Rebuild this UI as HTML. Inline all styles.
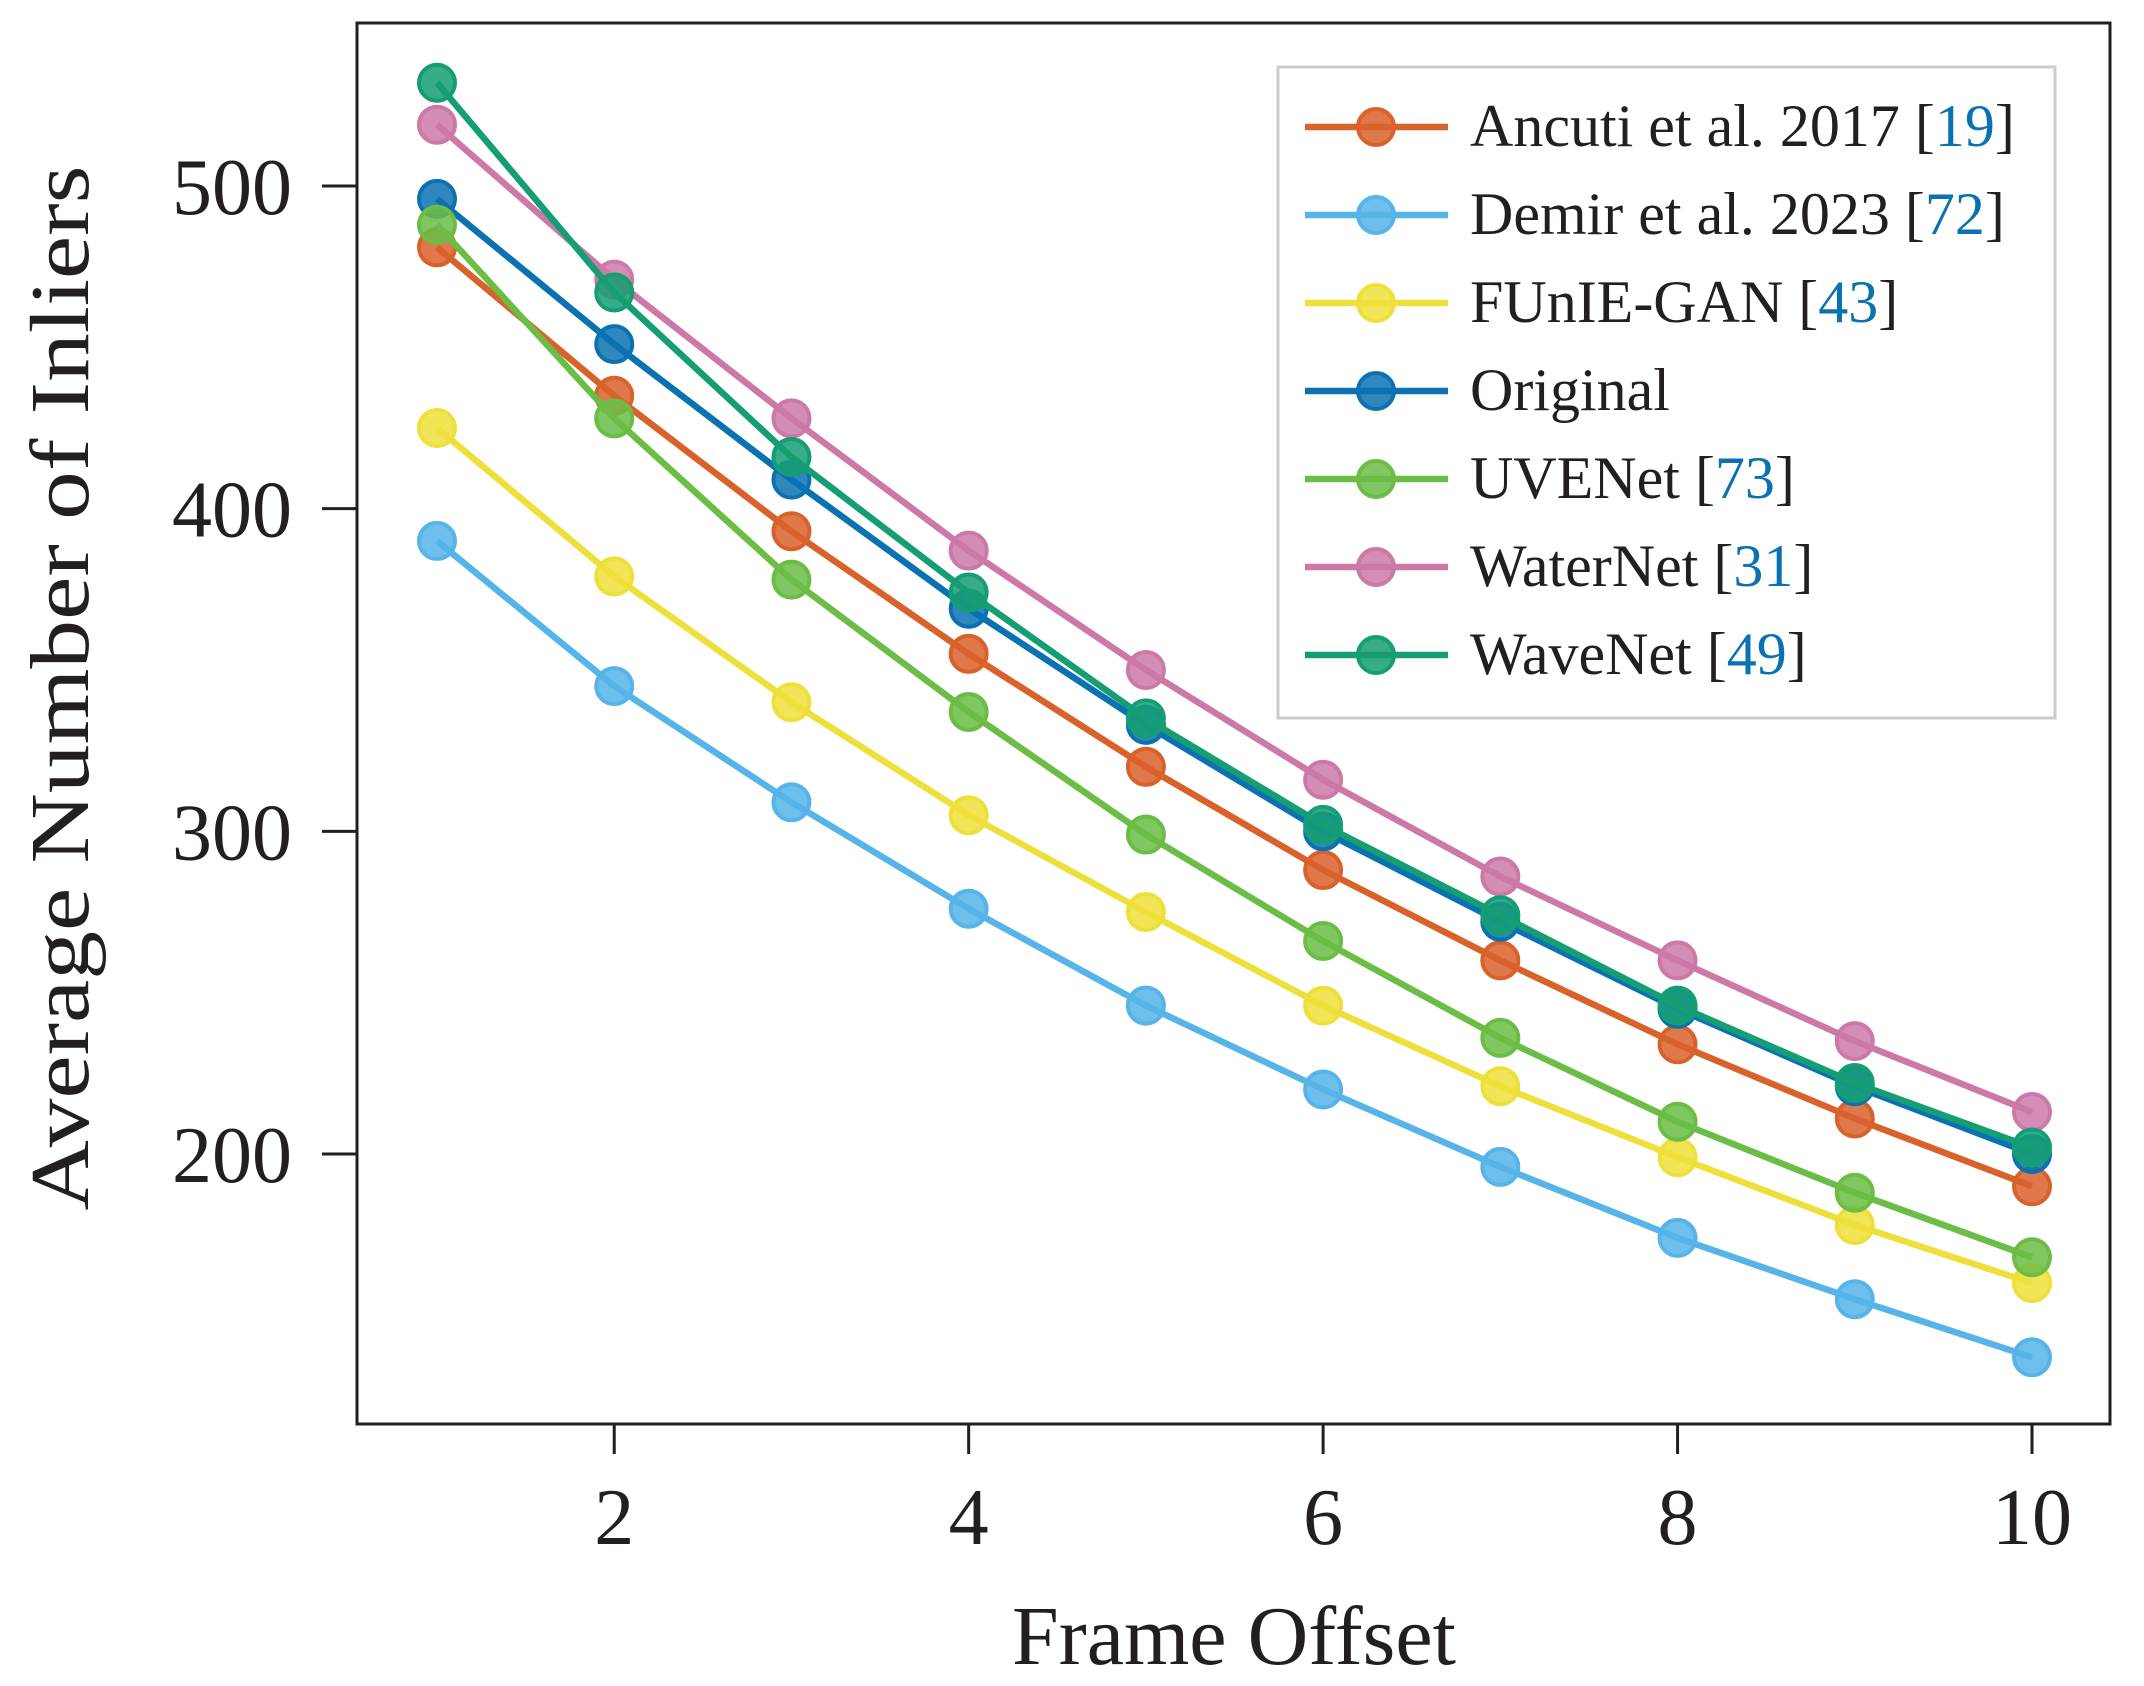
<!DOCTYPE html>
<html><head><meta charset="utf-8"><style>
html,body{margin:0;padding:0;background:#fff}
svg{display:block}
text{font-family:"Liberation Serif",serif;fill:#231f20}
</style></head><body>
<svg id="chart" width="2144" height="1686" viewBox="0 0 2144 1686" xmlns="http://www.w3.org/2000/svg"></svg>
<script>
const xs=[1,2,3,4,5,6,7,8,9,10];
const seriesNames=["Ancuti et al. 2017","Demir et al. 2023","FUnIE-GAN","Original","UVENet","WaterNet","WaveNet"];
const seriesRefs=["19","72","43","","73","31","49"];
const seriesColors=["#d9622b","#56b4e9","#eee03a","#0b72b2","#6bbd45","#cc79a7","#159e74"];
const ancuti=[481,435,393,355,320,288,260,234,211,190];
const demir=[390,345,309,276,246,220,196,174,155,137];
const funie=[425,379,340,305,275,246,221,199,178,160];
const original=[496,451,409,369,333,300,272,245,221,200];
const uvenet=[488,428,378,337,299,266,236,210,188,168];
const waternet=[519,471,428,387,350,316,286,260,235,213];
const wavenet=[532,467,416,374,335,302,274,246,222,202];
const yTicks=[200,300,400,500];
const xTicks=[2,4,6,8,10];
const allSeries=[ancuti,demir,funie,original,uvenet,waternet,wavenet];

const NS="http://www.w3.org/2000/svg";
const svg=document.getElementById('chart');
const L=357,R=2110,T=23,B=1424;
const X=v=>437+(v-1)*(2032-437)/9;
const Y=v=>186+(500-v)*(1154-186)/300;
function el(tag,attrs,parent){const e=document.createElementNS(NS,tag);for(const k in attrs)e.setAttribute(k,attrs[k]);(parent||svg).appendChild(e);return e;}

const frame=el('rect',{x:L,y:T,width:R-L,height:B-T,fill:'none',stroke:'#231f20','stroke-width':3});



yTicks.forEach(v=>{
  const t=el('line',{x1:L-35,x2:L,y1:Y(v),y2:Y(v),stroke:'#231f20','stroke-width':3});
  
  
  const tx=el('text',{x:292,y:Y(v)+28,'text-anchor':'end','font-size':80});
  tx.textContent=v;
  
  
});
xTicks.forEach(v=>{
  const t=el('line',{x1:X(v),x2:X(v),y1:B,y2:B+30,stroke:'#231f20','stroke-width':3});
  
  
  const tx=el('text',{x:X(v),y:1544,'text-anchor':'middle','font-size':80});
  tx.textContent=v;
  
  
});
const xl=el('text',{x:1234,y:1664,'text-anchor':'middle','font-size':84});
xl.textContent='Frame Offset';


const yl=el('text',{x:0,y:0,'text-anchor':'middle','font-size':84,transform:'translate(88,688) rotate(-90)',textLength:1045,lengthAdjust:'spacingAndGlyphs'});
yl.textContent='Average Number of Inliers';



allSeries.forEach((s,i)=>{
  const g=el('g',{});
  
  
  const pl=el('polyline',{points:s.map((v,j)=>X(xs[j])+','+Y(v)).join(' '),fill:'none',stroke:seriesColors[i],'stroke-width':6.5},g);
  
  
  s.forEach((v,j)=>{
    const c=el('circle',{cx:X(xs[j]),cy:Y(v),r:18,fill:seriesColors[i],'fill-opacity':0.85,stroke:seriesColors[i],'stroke-width':4},g);
    
    
  });
});

const lg=el('g',{});


el('rect',{x:1278,y:67,width:777,height:651,fill:'#fff',stroke:'#cccccc','stroke-width':3},lg);
seriesNames.forEach((n,i)=>{
  const y=127+i*88;
  const e=el('g',{},lg);
  
  
  el('line',{x1:1305,x2:1448,y1:y,y2:y,stroke:seriesColors[i],'stroke-width':6.5},e);
  el('circle',{cx:1376,cy:y,r:18,fill:seriesColors[i],'fill-opacity':0.85,stroke:seriesColors[i],'stroke-width':4},e);
  const t=el('text',{x:1470,y:y+19,'font-size':60},e);
  t.appendChild(document.createTextNode(n+(seriesRefs[i]?' [':'')));
  if(seriesRefs[i]){
    const ts=el('tspan',{style:'fill:#0b72b2'},t);ts.textContent=seriesRefs[i];
    t.appendChild(document.createTextNode(']'));
  }
});
</script>
</body></html>
